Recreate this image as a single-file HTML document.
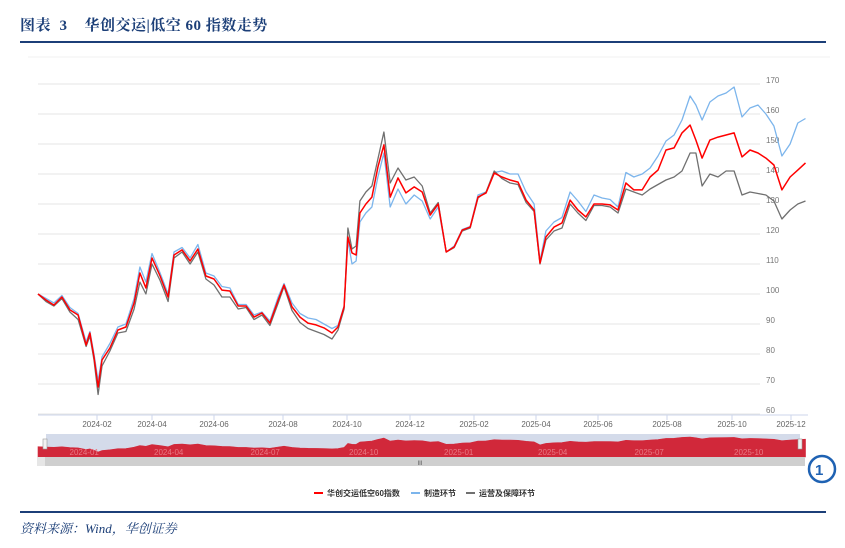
<!DOCTYPE html>
<html><head><meta charset="utf-8">
<style>
html,body{margin:0;padding:0;background:#fff;}
body{width:845px;height:548px;position:relative;overflow:hidden;font-family:"Liberation Serif","Noto Serif CJK SC",serif;}
#title{position:absolute;left:20px;top:14px;font-size:15px;font-weight:bold;color:#1c3f78;letter-spacing:0.5px;}
#rule{position:absolute;left:20px;top:41px;width:806px;height:2px;background:#1c3f78;}
#foot-rule{position:absolute;left:20px;top:511px;width:806px;height:2px;background:#1c3f78;}
#source{position:absolute;left:20px;top:518px;font-size:13px;font-style:italic;color:#1c3f78;}
svg{position:absolute;left:0;top:0;}
</style></head><body>
<div id="title">图表&nbsp; 3 &nbsp;&nbsp; 华创交运|低空 60 指数走势</div>
<div id="rule"></div>
<svg id="chart" width="845" height="548"></svg>
<div id="foot-rule"></div>
<div id="source">资料来源：Wind，华创证券</div>
<script>
// time in months since 2024-01 (fractional)
const months = [-1.00,-0.73,-0.46,-0.19,0.08,0.36,0.63,0.76,0.90,1.04,1.18,1.47,1.76,2.05,2.35,2.56,2.78,3.00,3.26,3.52,3.71,3.97,4.23,4.48,4.74,5.00,5.23,5.46,5.70,5.93,6.16,6.39,6.62,6.86,7.03,7.28,7.53,7.78,8.03,8.28,8.53,8.72,8.91,9.03,9.16,9.29,9.41,9.60,9.79,9.98,10.17,10.37,10.62,10.87,11.13,11.38,11.63,11.88,12.13,12.38,12.63,12.88,13.13,13.39,13.65,13.90,14.16,14.42,14.68,14.94,15.13,15.32,15.58,15.84,16.10,16.35,16.61,16.87,17.12,17.35,17.58,17.81,18.04,18.28,18.51,18.74,18.97,19.22,19.46,19.71,19.89,20.08,20.32,20.57,20.82,21.07,21.34,21.61,21.88,22.15,22.42,22.69,22.97,23.24,23.51];
const indexValues = [100,98,96.3,99,94.7,93,83,87,79,69,78,82,88,89,97,107,102,112,106,99,113,114.7,111,115,106,105,101.3,101,96,96,92.3,93.7,90.3,98,103,95.7,92.3,90.3,89.7,88.7,87,89,95.7,119,113.7,113,127,130,132.3,142.3,149.7,132.3,138.7,133.7,135.7,134,126.3,130,114,115.7,121.3,122.3,132.3,133.7,140.3,139,138,137.3,131.3,128,110.3,119,122.3,123.7,131.3,128,125.7,130,130,129.7,128,137,134.7,134.7,139,141.3,148,148.7,153.7,156.3,151.3,145.3,151.3,152.3,153,153.7,145.7,148,147,145.3,143,134.7,139,141.3,143.7];
const mfgValues = [100,98.5,97,99.5,95.5,93.5,84,87.5,80,71,79,83.5,89,90,98.5,109,104,113.5,107,100,114,115.5,112,116.5,107,106,102.5,102,96.5,96.5,93,94,91,99,103.5,97,93.5,92,91.5,90,88.5,89.5,96,118,110,111,124,127,129,139,147,129,135,130,133,131,125,129,114,116,121.5,122.5,133,134,140.5,141,140,140,134,130,111,121,124,125.5,134,131,127.5,133,132,131.5,129,140.5,139,140,142,146,151,153,158,166,163,158,164,166,167,169,159,162,163,160,156,146,150,157,158.5];
const opsValues = [100,97.5,96,98.5,94,91.5,82.5,86,78,66.5,76,81,87,87.5,95,104,100,110,104.5,97.5,112,114,110,114,105,103,99,99,95,95.5,91.5,93,89.5,97,102.5,94.5,90.5,88.5,87.5,86.5,85,88,95,122,115,116,131,134,136,145,154,137,142,138,139,136,127,130.5,114,115.5,121,122,132,134,141,138.5,137,136.5,130.5,127.5,110,118,121,122,130,127,124.5,129.5,129.5,129,127,135,134,133,135,136.5,138,139,141,147,147,136,140,139,141,141,133,134,133.5,133,131,125,128,130,131];
const yTicks = [60,70,80,90,100,110,120,130,140,150,160,170];
const xTickLabels = ["2024-02","2024-04","2024-06","2024-08","2024-10","2024-12","2025-02","2025-04","2025-06","2025-08","2025-10","2025-12"];
const xTickMonths = [1,3,5,7,9,11,13,15,17,19,21,23];
const navLabels = ["2024-01","2024-04","2024-07","2024-10","2025-01","2025-04","2025-07","2025-10"];
const navLabelMonths = [0,3,6,9,12,15,18,21];

const NS="http://www.w3.org/2000/svg";
const svg=document.getElementById('chart');
function mk(tag,attrs,parent){const e=document.createElementNS(NS,tag);for(const k in attrs)e.setAttribute(k,attrs[k]);(parent||svg).appendChild(e);return e;}
// piecewise month->x scale (axis calibration)
const calM=[-1,1,3,5,7,9,11,13,15,17,19,21,23,23.6];
const calX=[38,97,152,214,283,347,410,474,536,598,667,732,791,808];
function xS(m){for(let i=0;i<calM.length-1;i++){if(m<=calM[i+1]||i==calM.length-2){const f=(m-calM[i])/(calM[i+1]-calM[i]);return calX[i]+f*(calX[i+1]-calX[i]);}}}
function yS(v){return 84+(170-v)*3.0;}

// panel border top
let e=mk('line',{x1:28,y1:57,x2:830,y2:57,stroke:'#f0f0f0','stroke-width':1});

// grid + y labels
yTicks.forEach(v=>{
  const g=mk('line',{x1:38,x2:760,y1:yS(v),y2:yS(v),stroke:'#e6e6e6','stroke-width':1});
  
  const t=mk('text',{x:766,y:yS(v)-1,'font-size':8,fill:'#777','font-family':'Liberation Sans, sans-serif'});
  t.textContent=v;
  
});
// x axis line
e=mk('line',{x1:38,x2:808,y1:415,y2:415,stroke:'#ccd6eb','stroke-width':1});

xTickMonths.forEach((m,i)=>{
  const tk=mk('line',{x1:xS(m),x2:xS(m),y1:415,y2:420,stroke:'#ccd6eb'});
  
  const t=mk('text',{x:xS(m),y:427,'font-size':8,fill:'#666','text-anchor':'middle','font-family':'Liberation Sans, sans-serif'});
  t.textContent=xTickLabels[i];
  
});
function line(vals,color,w,name){
  const d=vals.map((v,i)=>(i?'L':'M')+xS(months[i]).toFixed(1)+','+yS(v).toFixed(1)).join('');
  const p=mk('path',{d:d,fill:'none',stroke:color,'stroke-width':w,'stroke-linejoin':'round'});
  
}
line(mfgValues,'#7cb5ec',1.3,'series-manufacturing');
line(opsValues,'#707070',1.3,'series-operations');
line(indexValues,'#ff0000',1.5,'series-low-altitude-index');

// navigator
e=mk('rect',{x:46,y:434,width:754,height:23,fill:'#d4dbea'});

function nY(v){return 452-(v-69)*0.172;}
let nd='M'+xS(months[0])+',457';
indexValues.forEach((v,i)=>{nd+='L'+xS(months[i]).toFixed(1)+','+nY(v).toFixed(1);});
nd+='L'+xS(months[months.length-1]).toFixed(1)+',457Z';
e=mk('path',{d:nd,fill:'#d1283a',stroke:'#d1283a','stroke-width':0.6});

navLabelMonths.forEach((m,i)=>{
  const t=mk('text',{x:xS(m)+2,y:455,'font-size':8,fill:'#e87a85','font-family':'Liberation Sans, sans-serif'});
  t.textContent=navLabels[i];
  
});
e=mk('rect',{x:43,y:439,width:4,height:10,fill:'#f2f2f2',stroke:'#999','stroke-width':0.6});

e=mk('rect',{x:798,y:439,width:4,height:10,fill:'#f2f2f2',stroke:'#999','stroke-width':0.6});

e=mk('rect',{x:37,y:457,width:768,height:9,fill:'#cfcfcf'});

e=mk('rect',{x:37,y:457,width:8,height:9,fill:'#e6e6e6'});

e=mk('text',{x:420,y:465,'font-size':6,fill:'#555','text-anchor':'middle','font-family':'Liberation Sans, sans-serif'});
e.textContent='III';

// blue circle icon
e=mk('circle',{cx:822,cy:469,r:13,fill:'#fff',stroke:'#1f62b3','stroke-width':2.5});

e=mk('text',{x:815,y:475,'font-size':15,'font-weight':'bold',fill:'#1f62b3','font-family':'Liberation Sans, sans-serif'});
e.textContent='1';


// legend
const legNames=['华创交运低空60指数','制造环节','运营及保障环节'];
const legColors=['#ff0000','#7cb5ec','#707070'];
const legX=[314,411,466];
legNames.forEach((n,i)=>{
  const l=mk('line',{x1:legX[i],x2:legX[i]+9,y1:493,y2:493,stroke:legColors[i],'stroke-width':2});
  
  const t=mk('text',{x:legX[i]+13,y:496,'font-size':8,'font-weight':'bold',fill:'#333','font-family':'Liberation Sans, Noto Sans CJK SC, sans-serif'});
  t.textContent=n;
  
});
</script>
</body></html>
